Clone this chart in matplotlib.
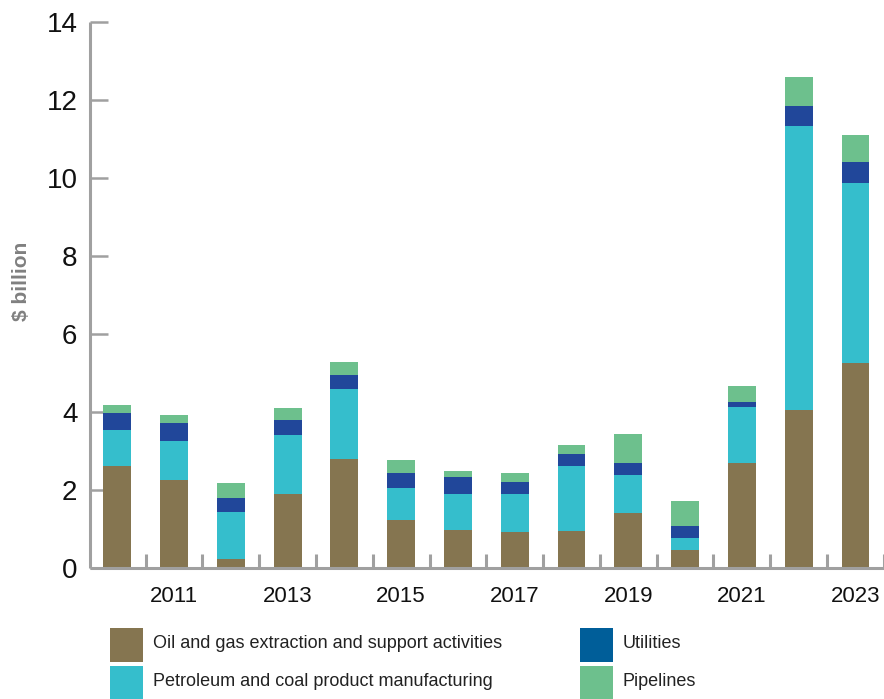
import matplotlib
matplotlib.use("Agg")
import matplotlib.pyplot as plt
from matplotlib.patches import Rectangle
import numpy as np

years = list(range(2010, 2024))

# $ billion by industry, stacked bottom to top
oil_gas = [2.61, 2.25, 0.22, 1.89, 2.79, 1.22, 0.96, 0.91, 0.94, 1.40, 0.45, 2.68, 4.05, 5.25]
petroleum = [0.92, 1.00, 1.21, 1.51, 1.80, 0.82, 0.93, 0.98, 1.67, 0.98, 0.31, 1.44, 7.29, 4.63]
utilities = [0.44, 0.46, 0.36, 0.39, 0.35, 0.39, 0.43, 0.31, 0.31, 0.30, 0.31, 0.13, 0.51, 0.54]
pipelines = [0.20, 0.21, 0.38, 0.31, 0.34, 0.33, 0.16, 0.23, 0.23, 0.75, 0.64, 0.41, 0.75, 0.69]

series_names = ["Oil and gas extraction and support activities",
                "Petroleum and coal product manufacturing",
                "Utilities",
                "Pipelines"]
bar_colors = ["#857550", "#35BECC", "#21479A", "#6DC08D"]
legend_colors = ["#857550", "#35BECC", "#005E99", "#6DC08D"]

plt.rcParams['font.family'] = ['Liberation Sans', 'DejaVu Sans']
axis_gray = "#a0a0a0"

fig = plt.figure(figsize=(8.84, 6.99), dpi=100)
ax = fig.add_axes([0.1018, 0.188, 0.898, 0.7804])

x = np.arange(len(years))
bottom = np.zeros(len(years))
for vals, color in zip([oil_gas, petroleum, utilities, pipelines], bar_colors):
    ax.bar(x, vals, width=0.49, bottom=bottom, color=color, linewidth=0, zorder=2)
    bottom += np.array(vals)

ax.set_xlim(-0.48, 13.5)
ax.set_ylim(0, 14)

for s in ["top", "right"]:
    ax.spines[s].set_visible(False)
for s in ["left", "bottom"]:
    ax.spines[s].set_color(axis_gray)
    ax.spines[s].set_linewidth(2.2)
    ax.spines[s].set_capstyle("butt")

ax.set_yticks(range(0, 15, 2))
ax.tick_params(axis="y", direction="in", length=13, width=1.8, color=axis_gray,
               labelsize=20, pad=9, labelcolor="#111111")

# labels under every other year, small dividers between bars
label_pos = [i for i, y in enumerate(years) if y % 2 == 1]
ax.set_xticks(label_pos)
ax.set_xticklabels([str(years[i]) for i in label_pos])
ax.tick_params(axis="x", which="major", length=0, labelsize=16, pad=13, labelcolor="#111111")
ax.set_xticks(np.arange(0.5, 14, 1.0), minor=True)
ax.tick_params(axis="x", which="minor", direction="in", length=10, width=2.2, color=axis_gray)

ax.set_ylabel("$ billion", fontsize=15, fontweight="bold", color="#808080",
              family=['Liberation Sans Narrow', 'Liberation Sans', 'DejaVu Sans'])
ax.yaxis.set_label_coords(-0.074, 0.525)

# legend in two columns below the plot
W, H = 884, 699
legend_items = [(110, 628, 0), (110, 666, 1), (580, 628, 2), (580, 666, 3)]
for px, py, k in legend_items:
    fig.patches.append(Rectangle((px / W, 1 - (py + 34) / H), 33 / W, 34 / H,
                                 transform=fig.transFigure, color=legend_colors[k], lw=0))
    fig.text((px + 43) / W, 1 - (py + 15) / H, series_names[k], fontsize=13,
             color="#222222", va="center", ha="left")

fig.savefig("out.png", dpi=100)
